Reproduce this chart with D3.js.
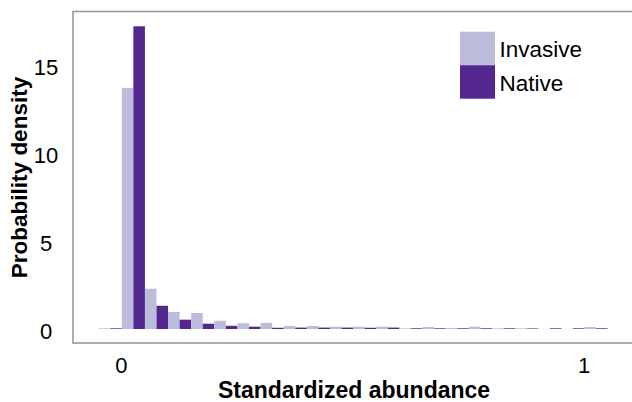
<!DOCTYPE html>
<html>
<head>
<meta charset="utf-8">
<script src="https://cdn.jsdelivr.net/npm/d3@7"></script>
<style>
  body { margin: 0; background: #fff; }
  text { font-family: "Liberation Sans", Arial, sans-serif; }
</style>
</head>
<body>
<div id="chart"></div>
<script>
var svgWidth = 632, svgHeight = 402;

// data: histogram bins of width 0.05, starting at -0.05
var binStarts = [-0.05, 0, 0.05, 0.1, 0.15, 0.2, 0.25, 0.3, 0.35, 0.4, 0.45,
                 0.5, 0.55, 0.6, 0.65, 0.7, 0.75, 0.8, 0.85, 0.9, 0.95, 1.0];
var binWidth = 0.05;
var invasive = [0.04, 13.7, 2.29, 0.97, 0.91, 0.47, 0.33, 0.35, 0.17, 0.17, 0.13,
                0.13, 0.13, 0.04, 0.11, 0.06, 0.13, 0.04, 0.04, 0.01, 0.01, 0.11];
var native = [0.04, 17.2, 1.32, 0.53, 0.30, 0.18, 0.13, 0.07, 0.08, 0.08, 0.08,
              0.07, 0.08, 0.04, 0.04, 0.04, 0.04, 0.04, 0.03, 0.04, 0.04, 0.04];
var series = ["Invasive", "Native"];
var colors = ["#bcbddc", "#54278f"];
var xTicks = [0, 1];
var yTicks = [0, 5, 10, 15];

var svg = d3.select("#chart").append("svg")
    .attr("width", svgWidth)
    .attr("height", svgHeight);

// scales
var x = d3.scaleLinear().domain([0, 1]).range([121.8, 584.5]);
var y = d3.scaleLinear().domain([0, 15]).range([329, 65]);
var xSub = d3.scaleBand().domain(series).range([0, x(binWidth) - x(0)]);
var color = d3.scaleOrdinal().domain(series).range(colors);

// panel frame (right side runs off the picture)
svg.append("rect")
    .attr("x", 73).attr("y", 11.5)
    .attr("width", 600).attr("height", 331.5)
    .attr("fill", "none")
    .attr("stroke", "#999")
    .attr("stroke-width", 1.6);

// bars
var rows = binStarts.map(function(b, i) {
    return { start: b, values: [invasive[i], native[i]] };
});

var groups = svg.selectAll(".bin")
    .data(rows)
    .enter().append("g")
    .attr("class", "bin")
    .attr("transform", function(d) { return "translate(" + x(d.start) + ",0)"; });

groups.selectAll("rect")
    .data(function(d) { return d.values.map(function(v, j) { return { key: series[j], value: v }; }); })
    .enter().append("rect")
    .attr("x", function(d) { return xSub(d.key); })
    .attr("width", xSub.bandwidth())
    .attr("y", function(d) { return y(d.value); })
    .attr("height", function(d) { return y(0) - y(d.value); })
    .attr("fill", function(d) { return color(d.key); });

// x axis
var xAxis = svg.append("g")
    .attr("transform", "translate(-1,343)")
    .call(d3.axisBottom(x).tickValues(xTicks).tickSize(0).tickPadding(14).tickFormat(d3.format("d")));
xAxis.select(".domain").remove();
xAxis.selectAll("text")
    .style("font-size", "22px")
    .style("font-family", "Liberation Sans, Arial, sans-serif")
    .attr("fill", "#000");

// y axis
var yAxis = svg.append("g")
    .attr("transform", "translate(73,2)")
    .call(d3.axisLeft(y).tickValues(yTicks).tickSize(0));
yAxis.select(".domain").remove();
yAxis.selectAll("text")
    .attr("x", -27)
    .attr("text-anchor", "middle")
    .style("font-size", "22px")
    .style("font-family", "Liberation Sans, Arial, sans-serif")
    .attr("fill", "#000");

// axis titles
svg.append("text")
    .attr("x", 354)
    .attr("y", 398)
    .attr("text-anchor", "middle")
    .style("font-size", "23px")
    .style("font-weight", "bold")
    .text("Standardized abundance");

svg.append("text")
    .attr("transform", "translate(27,177.5) rotate(-90)")
    .attr("text-anchor", "middle")
    .style("font-size", "22.5px")
    .style("font-weight", "bold")
    .text("Probability density");

// legend
var legend = svg.selectAll(".legend")
    .data(series)
    .enter().append("g")
    .attr("class", "legend")
    .attr("transform", function(d, i) { return "translate(460," + (31.7 + i * 33.5) + ")"; });

legend.append("rect")
    .attr("width", 35)
    .attr("height", 33.5)
    .attr("fill", function(d) { return color(d); });

legend.append("text")
    .attr("x", 39.5)
    .attr("y", 25.6)
    .style("font-size", "22.5px")
    .text(function(d) { return d; });
</script>
</body>
</html>
